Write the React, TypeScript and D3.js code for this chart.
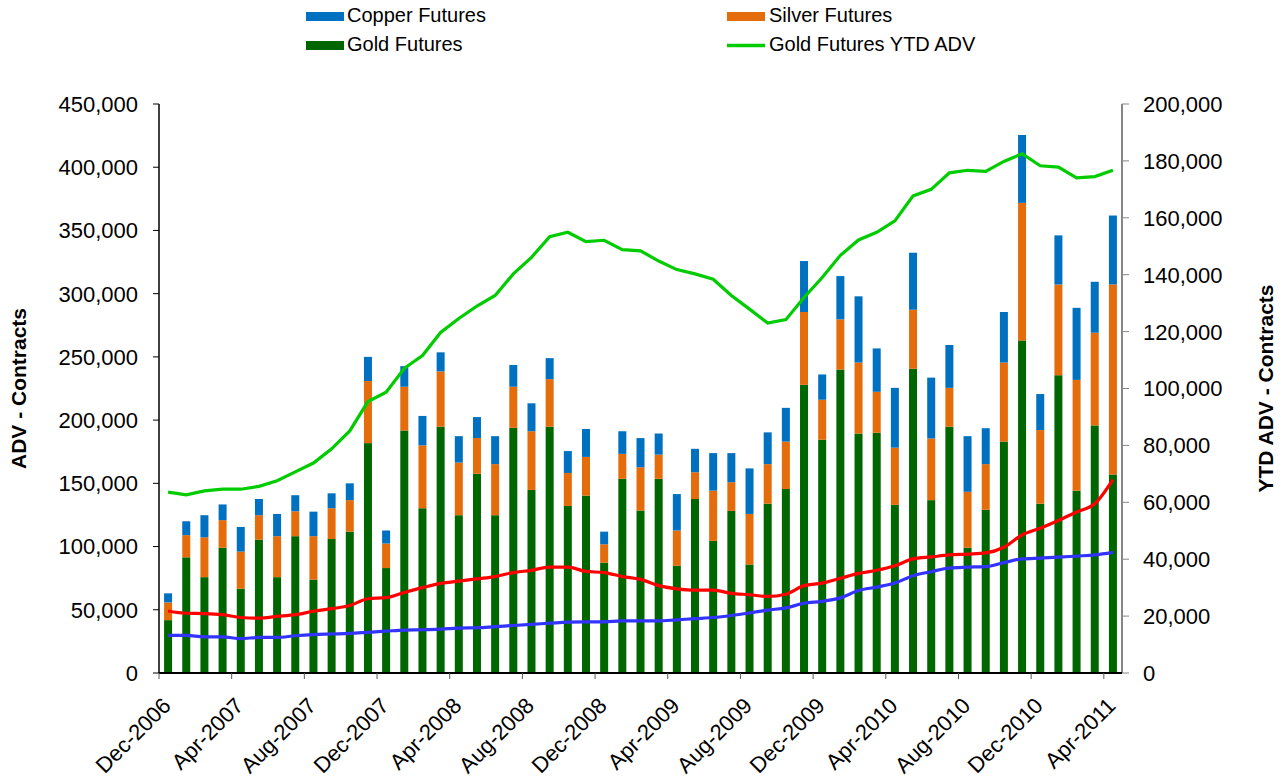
import React from "react";
import * as d3 from "d3";

// month categories, Dec-2006 .. Apr-2011
const months = [
  "Dec-2006", "Jan-2007", "Feb-2007", "Mar-2007", "Apr-2007", "May-2007", "Jun-2007", "Jul-2007",
  "Aug-2007", "Sep-2007", "Oct-2007", "Nov-2007", "Dec-2007", "Jan-2008", "Feb-2008", "Mar-2008",
  "Apr-2008", "May-2008", "Jun-2008", "Jul-2008", "Aug-2008", "Sep-2008", "Oct-2008", "Nov-2008",
  "Dec-2008", "Jan-2009", "Feb-2009", "Mar-2009", "Apr-2009", "May-2009", "Jun-2009", "Jul-2009",
  "Aug-2009", "Sep-2009", "Oct-2009", "Nov-2009", "Dec-2009", "Jan-2010", "Feb-2010", "Mar-2010",
  "Apr-2010", "May-2010", "Jun-2010", "Jul-2010", "Aug-2010", "Sep-2010", "Oct-2010", "Nov-2010",
  "Dec-2010", "Jan-2011", "Feb-2011", "Mar-2011", "Apr-2011",
];

// monthly ADV (contracts)
const gold = [
  41800, 91500, 75800, 99100, 66700, 105500, 75800, 108200, 73900, 106000, 111800, 181800, 83000,
  191800, 130300, 194800, 124800, 157600, 124800, 193900, 144800, 194800, 132100, 140300, 87300,
  153600, 128500, 153600, 84800, 137600, 104500, 128200, 85800, 133900, 145500, 227900, 184500,
  240000, 189400, 190000, 133000, 240600, 136700, 194800, 99100, 129100, 183000, 263000, 133900,
  235500, 144200, 195800, 157000,
];
const silver = [
  14000, 17500, 31500, 21800, 29300, 19300, 32400, 19700, 34300, 24300, 24900, 49100, 19400,
  34600, 49700, 43700, 41600, 28200, 40400, 32500, 46400, 37600, 26100, 30600, 14500,
  19700, 34200, 19100, 27900, 21200, 39700, 22700, 40000, 31300, 37500, 57600, 31600,
  39700, 56100, 32400, 45200, 46700, 48800, 30700, 44200, 36100, 62500, 108800, 58200,
  71800, 87600, 73300, 150300,
];
const copper = [
  7200, 11000, 17500, 12400, 19500, 12800, 17600, 12700, 19400, 11800, 13300, 19100, 10300,
  16300, 23300, 15100, 20900, 16600, 22100, 17200, 22100, 16600, 17300, 22100, 10000,
  17900, 23100, 16700, 28800, 18500, 29700, 23000, 36000, 25100, 26700, 40300, 20000,
  34200, 52400, 34300, 47300, 45100, 48100, 33900, 44000, 28400, 40000, 53700, 28500,
  38800, 57000, 40300, 54500,
];

// YTD ADV lines (right axis)
const goldYtd = [
  63600, 62600, 64000, 64600, 64600, 65600, 67600, 70700, 73800, 78800, 85100, 95400, 98700,
  107100, 111600, 119700, 124600, 129000, 132700, 140300, 146100, 153400, 154900, 151600, 152100,
  148800, 148400, 144800, 141800, 140300, 138400, 132700, 127900, 123000, 124200, 132000, 139000,
  146800, 152200, 154900, 158900, 167700, 170000, 175800, 176700, 176300, 179800, 182500, 178300,
  177800, 174000, 174500, 176700,
];
const silverYtd = [
  21800, 21000, 20900, 20500, 19500, 19300, 19900, 20500, 21700, 22600, 23700, 26100, 26500,
  28300, 30000, 31500, 32300, 33100, 33900, 35300, 36100, 37200, 37200, 35700, 35300,
  33900, 32900, 30700, 29600, 29100, 29100, 28000, 27500, 26900, 27700, 30700, 31600,
  33300, 35000, 36100, 37700, 40100, 40800, 41500, 41800, 42200, 44200, 48500, 50900,
  53600, 56600, 59500, 68000,
];
const copperYtd = [
  13200, 13200, 12700, 12700, 12100, 12500, 12500, 13100, 13500, 13700, 13900, 14300, 14700,
  15100, 15200, 15400, 15800, 15900, 16300, 16700, 17100, 17500, 17900, 18000, 18000,
  18300, 18300, 18300, 18700, 19100, 19500, 20200, 21100, 22100, 22900, 24500, 25200,
  26400, 29000, 30200, 31600, 34200, 35600, 36900, 37200, 37400, 38800, 40100, 40400,
  40700, 41100, 41500, 42400,
];

const leftTicks = [0, 50000, 100000, 150000, 200000, 250000, 300000, 350000, 400000, 450000];
const rightTicks = [0, 20000, 40000, 60000, 80000, 100000, 120000, 140000, 160000, 180000, 200000];

const COLORS = {
  gold: "#006600",
  silver: "#E46C0A",
  copper: "#0070C0",
  goldLine: "#00CC00",
  silverLine: "#FF0000",
  copperLine: "#3333FF",
};

const FONT = "Arial, 'Liberation Sans', sans-serif";

export default function App() {
  const width = 1286;
  const height = 782;
  const left = 159;
  const right = 1122;
  const top = 104;
  const bottom = 673;

  const x = d3.scaleBand<string>().domain(months).range([left, right]).paddingInner(0.56).paddingOuter(0.28);
  const step = x.step();
  const yL = d3.scaleLinear().domain([0, 450000]).range([bottom, top]);
  const yR = d3.scaleLinear().domain([0, 200000]).range([bottom, top]);
  const fmt = d3.format(",");

  const rows = months.map((m, i) => ({ m, gold: gold[i], silver: silver[i], copper: copper[i] }));
  const stack = d3.stack<any>().keys(["gold", "silver", "copper"])(rows);

  const cx = (i: number) => (x(months[i]) as number) + x.bandwidth() / 2;
  const lineFor = (vals: number[], curve: any) =>
    d3
      .line<number>()
      .x((_, i) => cx(i))
      .y((d) => yR(d))
      .curve(curve)(vals) as string;

  const labelIdx = months.map((_, i) => i).filter((i) => i % 4 === 0);

  return (
    <svg width={width} height={height} style={{ position: "absolute", left: 0, top: 0 }} fontFamily={FONT}>
      <rect width={width} height={height} fill="#fff" />

      {/* bars */}
      {stack.map((layer) => (
        <g key={layer.key} fill={(COLORS as any)[layer.key]}>
          {layer.map((d, i) => (
            <rect
              key={i}
              x={x(months[i])}
              width={x.bandwidth()}
              y={yL(d[1])}
              height={yL(d[0]) - yL(d[1])}
            />
          ))}
        </g>
      ))}

      {/* lines */}
      <path d={lineFor(copperYtd, d3.curveMonotoneX)} fill="none" stroke={COLORS.copperLine} strokeWidth={3.2} />
      <path d={lineFor(silverYtd, d3.curveMonotoneX)} fill="none" stroke={COLORS.silverLine} strokeWidth={3.2} />
      <path d={lineFor(goldYtd, d3.curveLinear)} fill="none" stroke={COLORS.goldLine} strokeWidth={3.2} />

      {/* left axis */}
      <line x1={left} x2={left} y1={top} y2={bottom} stroke="#000" strokeWidth={1.5} />
      {leftTicks.map((t) => (
        <g key={t}>
          <line x1={left - 6} x2={left} y1={yL(t)} y2={yL(t)} stroke="#000" strokeWidth={1} />
          <text x={left - 21} y={yL(t)} dy="0.36em" textAnchor="end" fontSize={22} fill="#000">
            {fmt(t)}
          </text>
        </g>
      ))}

      {/* right axis */}
      <line x1={right} x2={right} y1={top} y2={bottom} stroke="#868686" strokeWidth={2} />
      {rightTicks.map((t) => (
        <g key={t}>
          <line x1={right} x2={right + 7} y1={yR(t)} y2={yR(t)} stroke="#868686" strokeWidth={1} />
          <text x={right + 21} y={yR(t)} dy="0.36em" textAnchor="start" fontSize={22} fill="#000">
            {fmt(t)}
          </text>
        </g>
      ))}

      {/* bottom axis */}
      <line x1={left} x2={right} y1={bottom} y2={bottom} stroke="#000" strokeWidth={2} />
      {labelIdx.map((i) => {
        const bx = (x(months[i]) as number) - step * 0.28;
        return (
          <g key={i}>
            <line x1={bx} x2={bx} y1={bottom} y2={bottom + 6} stroke="#555" strokeWidth={1} />
            <text
              transform={`translate(${cx(i) + 4},${bottom + 34}) rotate(-45)`}
              textAnchor="end"
              fontSize={22}
              fill="#000"
            >
              {months[i]}
            </text>
          </g>
        );
      })}

      {/* axis titles */}
      <text
        transform={`translate(19,${(top + bottom) / 2}) rotate(-90)`}
        textAnchor="middle"
        dy="0.35em"
        fontSize={21}
        fontWeight="bold"
      >
        ADV - Contracts
      </text>
      <text
        transform={`translate(1266,${(top + bottom) / 2}) rotate(-90)`}
        textAnchor="middle"
        dy="0.35em"
        fontSize={21}
        fontWeight="bold"
      >
        YTD ADV - Contracts
      </text>

      {/* legend */}
      <g fontSize={20} fill="#000">
        <rect x={306} y={12} width={38} height={9} fill={COLORS.copper} />
        <text x={347} y={22}>Copper Futures</text>
        <rect x={306} y={41} width={38} height={9} fill={COLORS.gold} />
        <text x={347} y={51}>Gold Futures</text>
        <rect x={727} y={12} width={38} height={9} fill={COLORS.silver} />
        <text x={769} y={22}>Silver Futures</text>
        <line x1={727} x2={765} y1={45.5} y2={45.5} stroke={COLORS.goldLine} strokeWidth={3.5} />
        <text x={769} y={51}>Gold Futures YTD ADV</text>
      </g>
    </svg>
  );
}
